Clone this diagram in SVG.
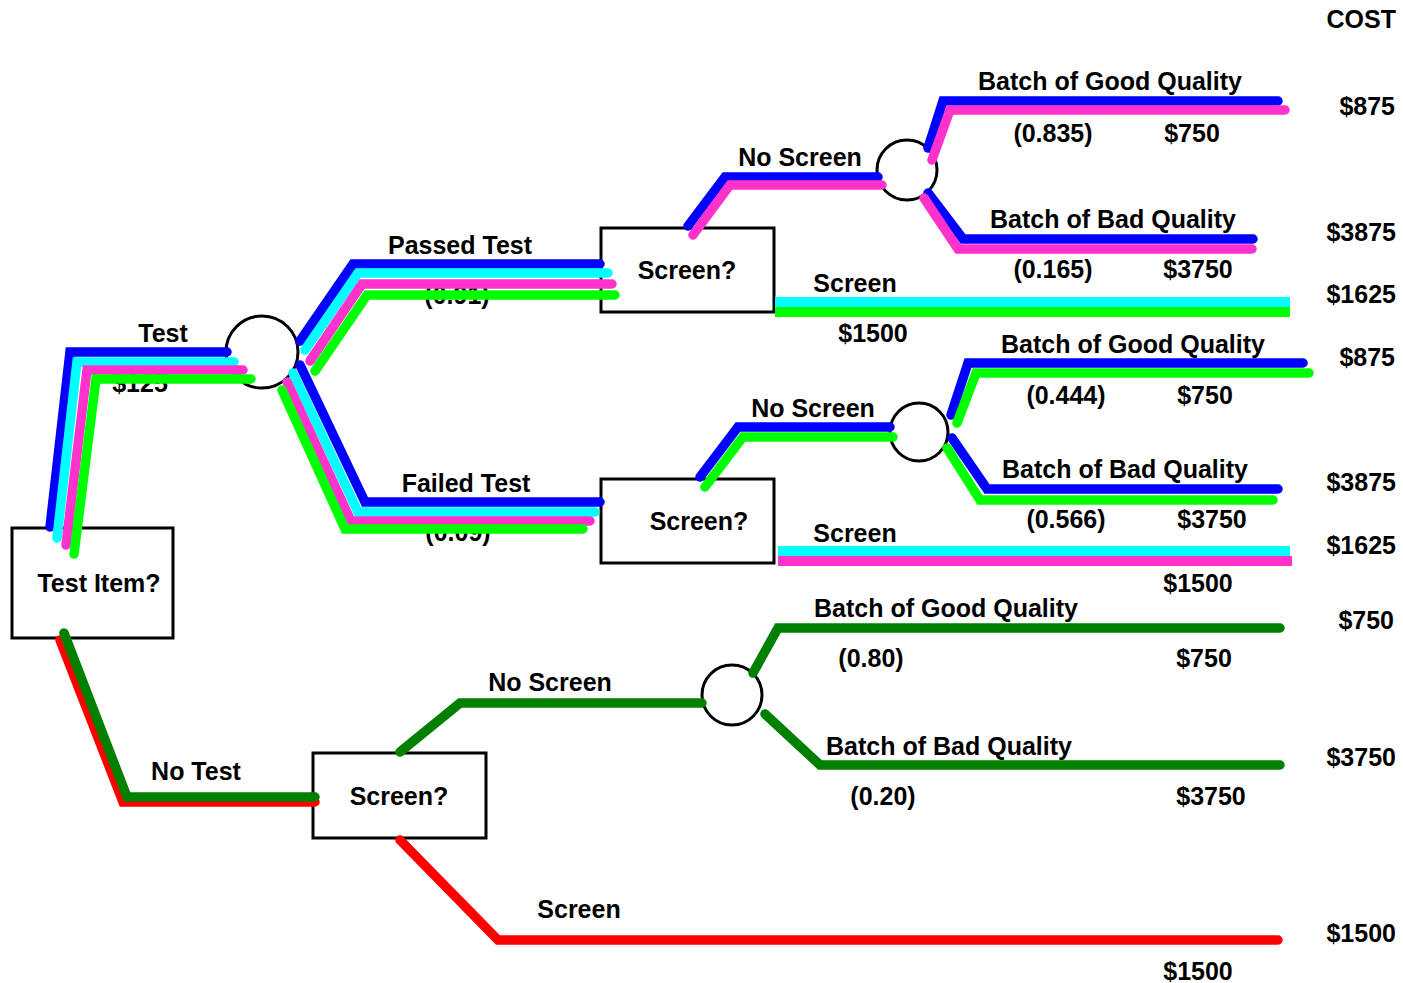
<svg xmlns="http://www.w3.org/2000/svg" width="1403" height="983" viewBox="0 0 1403 983">
<style>
text{font-family:"Liberation Sans",Arial,sans-serif;font-weight:bold;font-size:25px;fill:#000;text-anchor:middle}
.r{text-anchor:end}
.box{fill:#fff;stroke:#000;stroke-width:3}
.chance{fill:#fff;stroke:#000;stroke-width:3}
.ln{fill:none;stroke-width:9.5;stroke-linecap:round;stroke-linejoin:miter}
.bt{fill:none;stroke-width:10;stroke-linecap:butt}
.b{stroke:#0000ff}.c{stroke:#00ffff}.p{stroke:#ff33cc}.g{stroke:#00ff00}.dg{stroke:#008000}.rd{stroke:#ff0000}
</style>
<rect width="1403" height="983" fill="#fff"/>
<g id="test-item"><rect class="box" x="12" y="528" width="161" height="110"/><text x="99" y="592">Test Item?</text></g>
<g id="screen-passed"><rect class="box" x="601" y="228" width="173" height="84"/><text x="687" y="279">Screen?</text></g>
<g id="screen-failed"><rect class="box" x="601" y="479" width="173" height="84"/><text x="699" y="530">Screen?</text></g>
<g id="screen-notest"><rect class="box" x="313" y="753" width="173" height="85"/><text x="399" y="805">Screen?</text></g>
<g id="chance-test"><circle class="chance" cx="262" cy="352" r="36"/></g>
<g id="chance-passed"><circle class="chance" cx="907" cy="170" r="30"/></g>
<g id="chance-failed"><circle class="chance" cx="919" cy="432" r="29"/></g>
<g id="chance-notest"><circle class="chance" cx="732" cy="695" r="30"/></g>
<g id="hidden-labels">
<text x="140" y="392">$125</text>
<text x="457" y="304">(0.91)</text>
<text x="458" y="541">(0.09)</text>
</g>
<g id="connectors">
<path class="ln b" d="M50,527 L70,352 L227,352"/>
<path class="ln c" d="M57,538 L77,362 L234,362"/>
<path class="ln p" d="M66,545 L87,370 L243,370"/>
<path class="ln g" d="M74,554 L96,379 L251,379"/>
<path class="ln b" d="M300,341 L353,264 L600,264"/>
<path class="ln c" d="M305,350 L358,273 L608,273"/>
<path class="ln p" d="M310,361 L362,284 L612,284"/>
<path class="ln g" d="M315,371 L367,295 L615,295"/>
<path class="ln b" d="M300,365 L365,502 L600,502"/>
<path class="ln c" d="M293,373 L358,512 L595,512"/>
<path class="ln p" d="M287,382 L351,521 L590,521"/>
<path class="ln g" d="M282,390 L345,529 L583,529"/>
<path class="ln b" d="M688,226 L725,177 L878,177"/>
<path class="ln p" d="M693,235 L730,185 L882,185"/>
<path class="ln b" d="M928,148 L943,101 L1278,101"/>
<path class="ln p" d="M932,160 L950,110 L1285,110"/>
<path class="ln b" d="M928,193 L963,239 L1253,239"/>
<path class="ln p" d="M924,198 L958,249 L1252,249"/>
<path class="bt c" d="M775,302 L1290,302"/>
<path class="bt g" d="M775,312 L1290,312"/>
<path class="ln b" d="M700,477 L738,427 L890,427"/>
<path class="ln g" d="M705,487 L743,437 L893,437"/>
<path class="ln b" d="M951,415 L968,363 L1303,363"/>
<path class="ln g" d="M957,423 L976,373 L1309,373"/>
<path class="ln b" d="M952,438 L987,489 L1278,489"/>
<path class="ln g" d="M947,448 L980,500 L1273,500"/>
<path class="bt c" d="M778,551 L1290,551"/>
<path class="bt p" d="M778,561 L1292,561"/>
<path class="ln rd" d="M60,640 L123,802 L315,802"/>
<path class="ln dg" d="M64,633 L127,797 L315,797"/>
<path class="ln dg" d="M400,752 L460,703 L702,703"/>
<path class="ln dg" d="M753,673 L778,628 L1280,628"/>
<path class="ln dg" d="M765,714 L820,765 L1280,765"/>
<path class="ln rd" d="M400,840 L498,940 L1278,940"/>
</g>
<g id="labels">
<text x="163" y="342">Test</text>
<text x="460" y="254">Passed Test</text>
<text x="466" y="492">Failed Test</text>
<text x="800" y="166">No Screen</text>
<text x="1110" y="90">Batch of Good Quality</text>
<text x="1053" y="142">(0.835)</text>
<text x="1192" y="142">$750</text>
<text x="1113" y="228">Batch of Bad Quality</text>
<text x="1053" y="278">(0.165)</text>
<text x="1198" y="278">$3750</text>
<text x="855" y="292">Screen</text>
<text x="873" y="342">$1500</text>
<text x="813" y="417">No Screen</text>
<text x="1133" y="353">Batch of Good Quality</text>
<text x="1066" y="404">(0.444)</text>
<text x="1205" y="404">$750</text>
<text x="1125" y="478">Batch of Bad Quality</text>
<text x="1066" y="528">(0.566)</text>
<text x="1212" y="528">$3750</text>
<text x="855" y="542">Screen</text>
<text x="1198" y="592">$1500</text>
<text x="196" y="780">No Test</text>
<text x="550" y="691">No Screen</text>
<text x="946" y="617">Batch of Good Quality</text>
<text x="871" y="667">(0.80)</text>
<text x="1204" y="667">$750</text>
<text x="949" y="755">Batch of Bad Quality</text>
<text x="883" y="805">(0.20)</text>
<text x="1211" y="805">$3750</text>
<text x="579" y="918">Screen</text>
<text x="1198" y="980">$1500</text>
</g>
<g id="costs">
<text class="r" x="1396" y="28">COST</text>
<text class="r" x="1395" y="115">$875</text>
<text class="r" x="1396" y="241">$3875</text>
<text class="r" x="1396" y="303">$1625</text>
<text class="r" x="1395" y="366">$875</text>
<text class="r" x="1396" y="491">$3875</text>
<text class="r" x="1396" y="554">$1625</text>
<text class="r" x="1394" y="629">$750</text>
<text class="r" x="1396" y="766">$3750</text>
<text class="r" x="1396" y="942">$1500</text>
</g>
</svg>
